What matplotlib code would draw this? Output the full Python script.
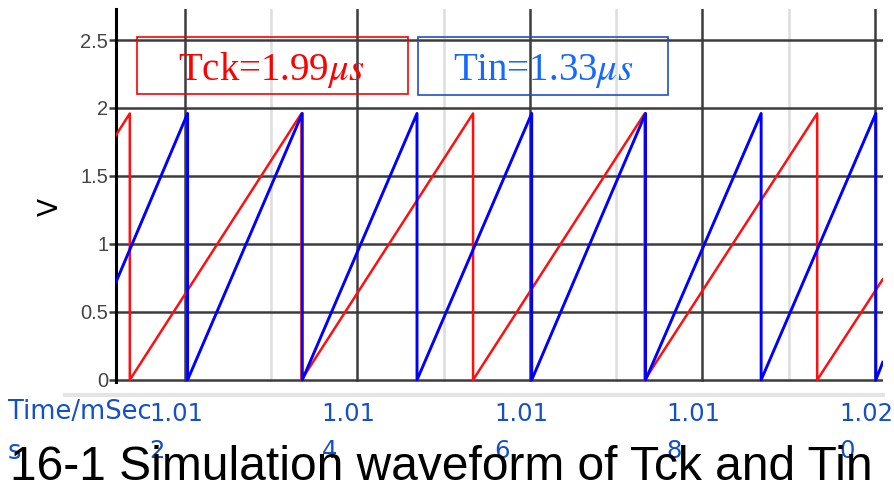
import matplotlib
matplotlib.use("Agg")
import matplotlib.pyplot as plt
from matplotlib.lines import Line2D
from matplotlib.patches import Rectangle
from matplotlib.transforms import ScaledTranslation

# waveform vertices (time in ms, voltage in V)
red_t = [1.01120, 1.01136, 1.01136, 1.01335, 1.01335, 1.01534, 1.01534,
         1.01733, 1.01733, 1.01933, 1.01933, 1.02009]
red_v = [1.80, 1.96, 0.0, 1.96, 0.0, 1.96, 0.0, 1.96, 0.0, 1.96, 0.0, 0.74]

blue_t = [1.01120, 1.01203, 1.01203, 1.01336, 1.01336, 1.01469, 1.01469,
          1.01602, 1.01602, 1.01734, 1.01734, 1.01868, 1.01868,
          1.02001, 1.02001, 1.02009]
blue_v = [0.72, 1.96, 0.0, 1.96, 0.0, 1.96, 0.0, 1.96, 0.0, 1.96, 0.0,
          1.96, 0.0, 1.96, 0.0, 0.13]

x_major = [1.012, 1.014, 1.016, 1.018, 1.020]
x_minor = [1.013, 1.015, 1.017, 1.019]
x_labels = ["1.01\n2", "1.01\n4", "1.01\n6", "1.01\n8", "1.02\n0"]
y_ticks = [0, 0.5, 1, 1.5, 2, 2.5]
y_labels = ["0", "0.5", "1", "1.5", "2", "2.5"]

label_red = "Tck=1.99$\\mu s$"
label_blue = "Tin=1.33$\\mu s$"
title = "16-1 Simulation waveform of Tck and Tin"

W, H = 894, 484
plt.rcParams["mathtext.fontset"] = "stix"

fig = plt.figure(figsize=(W / 100, H / 100), dpi=100)


def fx(px):
    return px / W


def fy(py):
    return (H - py) / H


ax = fig.add_axes([fx(116), fy(382), fx(883) - fx(116), fy(9) - fy(382)])
ax.set_xlim(1.0112, 1.020093)
ax.set_ylim(-0.015, 2.728)

ax.plot(red_t, red_v, color="#ff1010", lw=1.8, zorder=3)
ax.plot(blue_t, blue_v, color="#0000ff", lw=2.1, zorder=4)

ax.set_xticks(x_major, x_labels)
ax.set_xticks(x_minor, minor=True)
ax.set_yticks(y_ticks, y_labels)

ax.grid(which="major", axis="both", color="#3c3c3c", lw=1.8)
ax.grid(which="minor", axis="x", color="#dddddd", lw=1.8)
ax.set_axisbelow(True)

for s in ["top", "right", "bottom"]:
    ax.spines[s].set_visible(False)
ax.spines["left"].set_color("black")
ax.spines["left"].set_linewidth(2.2)

ax.tick_params(axis="x", which="both", length=0, pad=14.4,
               labelsize=17.5, labelcolor="#1450c8")
ax.tick_params(axis="y", length=5, width=1.8, color="#3c3c3c", pad=0.5,
               labelsize=14.5, labelcolor="#444444")
for lab in ax.get_yticklabels():
    lab.set_family("Liberation Sans")
# the labels sit a bit left of their ticks in the original
shift = ScaledTranslation(-9 / 100, 0, fig.dpi_scale_trans)
for lab in ax.get_xticklabels():
    lab.set_linespacing(1.7)
    lab.set_multialignment("left")
    lab.set_transform(lab.get_transform() + shift)

ax.set_ylabel("V", fontsize=19, color="black")
ax.yaxis.set_label_coords(-0.068, 0.469)

# boxed labels
fig.add_artist(Rectangle((fx(137), fy(94)), fx(408) - fx(137), fy(37) - fy(94),
                         transform=fig.transFigure, fill=False,
                         edgecolor="#ff0000", lw=1.2))
fig.add_artist(Rectangle((fx(418), fy(95)), fx(668) - fx(418), fy(37) - fy(95),
                         transform=fig.transFigure, fill=False,
                         edgecolor="#1f4fc8", lw=1.2))
fig.text(fx(272), fy(80), label_red, color="#ff0000", fontsize=28,
         family="Liberation Serif", ha="center", va="baseline")
fig.text(fx(543), fy(80), label_blue, color="#1469ff", fontsize=28,
         family="Liberation Serif", ha="center", va="baseline")

# grey strip under the plot
fig.add_artist(Line2D([fx(65), fx(883)], [fy(395), fy(395)],
                      transform=fig.transFigure, color="#e4e4e4", lw=3))

fig.text(fx(8), fy(399), "Time/mSec\ns", color="#1450c8", fontsize=18.5,
         ha="left", va="top", linespacing=1.7)
fig.text(fx(10), fy(480), title, fontsize=34.5, family="Liberation Sans",
         ha="left", va="baseline")

fig.savefig("out.png", dpi=100)
